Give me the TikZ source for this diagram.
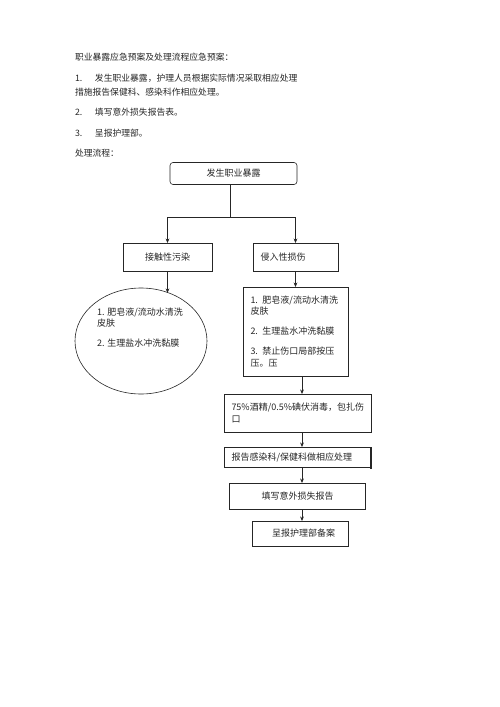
\documentclass[tikz,border=0pt]{standalone}
\usepackage{fontspec}
\setmainfont{Noto Sans CJK SC}
\usetikzlibrary{shapes.geometric,arrows.meta}
\definecolor{ink}{HTML}{262626}
\tikzset{
  hdr/.style={anchor=base west,inner sep=0pt,outer sep=0pt,text=ink,font=\fontsize{8.8}{14}\selectfont},
  box/.style={draw=ink,line width=0.6pt,inner sep=0pt,outer sep=0pt,text=ink,font=\fontsize{9}{11.5}\selectfont},
  lbox/.style={box,align=left,inner xsep=7.5pt},
  arr/.style={draw=ink,line width=0.6pt,-{Stealth[length=4.5pt,width=3.8pt]}},
  ln/.style={draw=ink,line width=0.6pt}
}
\begin{document}
\begin{tikzpicture}[x=1pt,y=-1pt]
\useasboundingbox (0,0) rectangle (500,707);
% header text
\node[hdr] (h1) at (75,60.5) {职业暴露应急预案及处理流程应急预案：};
\node[hdr] (h2) at (75,81.5) {\makebox[20pt][l]{1.}发生职业暴露，护理人员根据实际情况采取相应处理};
\node[hdr] (h3) at (75,95.5) {措施报告保健科、感染科作相应处理。};
\node[hdr] (h4) at (75,115.5) {\makebox[20pt][l]{2.}填写意外损失报告表。};
\node[hdr] (h5) at (75,136.5) {\makebox[20pt][l]{3.}呈报护理部。};
\node[hdr] (h6) at (75,156.5) {处理流程：};
% flow boxes
\node[box,rounded corners=3pt,minimum width=127pt,minimum height=22pt] (top) at (233.5,173.5) {发生职业暴露};
\node[box,minimum width=89pt,minimum height=28pt] (b1) at (167.5,257) {接触性污染};
\node[lbox,text width=70pt,minimum height=28pt] (b2) at (295.5,257) {侵入性损伤};
\node[box,ellipse,minimum width=132pt,minimum height=106pt] (ell) at (141,341) {};
\node[anchor=north west,inner sep=0pt,text=ink,font=\fontsize{9}{11.5}\selectfont,align=left] (elltxt) at (97,307.5) {1. 肥皂液/流动水清洗\\皮肤\\[8.5pt]2. 生理盐水冲洗黏膜};
\node[lbox,text width=90pt,minimum height=89pt] (b3) at (295.5,331.5) {1. 肥皂液/流动水清洗\\皮肤\\[8.5pt]2. 生理盐水冲洗黏膜\\[8.5pt]3. 禁止伤口局部按压\\压。压};
\node[lbox,text width=132pt,minimum height=38pt] (b4) at (297.5,413) {75\%酒精/0.5\%碘伏消毒，包扎伤\\口};
\node[lbox,text width=132pt,minimum height=20pt] (b5) at (297.5,457) {报告感染科/保健科做相应处理};
\draw[draw=ink,line width=1.6pt] (b5.north east) -- ([yshift=-2pt]b5.south east);
\node[box,minimum width=136pt,minimum height=26pt] (b6) at (297.5,496) {填写意外损失报告};
\node[box,minimum width=96pt,minimum height=25pt,text width=70pt,align=right,inner xsep=13pt] (b7) at (300,533.5) {呈报护理部备案};
% connectors
\coordinate (fork) at (230,217);
\coordinate (ax) at (302,0);
\draw[ln] (top.south -| fork) -- (fork);
\draw[arr] (fork) -| (b1.north);
\draw[arr] (fork) -| (b2.north);
\draw[arr] (b1.south) -- (b1.south |- ell.60);
\draw[arr] (b2.south) -- (b3.north);
\draw[arr] (b3.south -| ax) -- (b4.north -| ax);
\draw[arr] (b4.south -| ax) -- (b5.north -| ax);
\draw[arr] (b5.south -| ax) -- (b6.north -| ax);
\draw[arr] (b6.south -| ax) -- (b7.north -| ax);
\end{tikzpicture}
\end{document}
